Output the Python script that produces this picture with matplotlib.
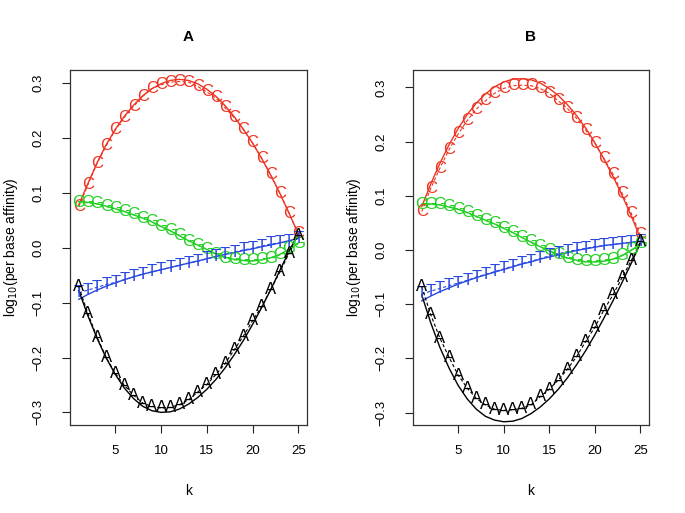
import matplotlib
matplotlib.use("Agg")
import matplotlib.pyplot as plt
import numpy as np

plt.rcParams['font.family'] = ['Liberation Sans', 'DejaVu Sans']

k = list(range(1, 26))

# ---------------- Panel A ----------------
A_C = [0.075, 0.115, 0.154, 0.186, 0.215, 0.238, 0.258, 0.276, 0.290, 0.297, 0.302, 0.303, 0.302,
       0.294, 0.284, 0.273, 0.255, 0.237, 0.215, 0.191, 0.163, 0.133, 0.099, 0.063, 0.026]
A_G = [0.082, 0.082, 0.080, 0.075, 0.071, 0.066, 0.060, 0.054, 0.048, 0.038, 0.031, 0.023, 0.012,
       0.005, -0.003, -0.012, -0.019, -0.022, -0.024, -0.024, -0.022, -0.019, -0.013, -0.002, 0.007]
A_T = [-0.082, -0.077, -0.072, -0.067, -0.063, -0.058, -0.053, -0.048, -0.044, -0.040, -0.036, -0.032, -0.028,
       -0.025, -0.020, -0.016, -0.012, -0.008, -0.004, -0.001, 0.003, 0.007, 0.009, 0.012, 0.017]
A_A = [-0.071, -0.120, -0.163, -0.200, -0.229, -0.251, -0.269, -0.283, -0.289, -0.292, -0.291, -0.286, -0.277,
       -0.263, -0.249, -0.231, -0.211, -0.186, -0.161, -0.133, -0.107, -0.076, -0.044, -0.010, 0.023]

A_C_fit = [0.078, 0.117, 0.155, 0.188, 0.216, 0.240, 0.260, 0.277, 0.290, 0.299, 0.305, 0.307, 0.305,
           0.299, 0.289, 0.276, 0.259, 0.239, 0.216, 0.191, 0.163, 0.132, 0.099, 0.063, 0.025]
A_G_fit = [0.084, 0.083, 0.080, 0.076, 0.071, 0.066, 0.060, 0.054, 0.047, 0.039, 0.031, 0.022, 0.013,
           0.005, -0.003, -0.011, -0.017, -0.021, -0.023, -0.024, -0.022, -0.018, -0.012, -0.003, 0.009]
A_T_fit = [-0.094, -0.085, -0.077, -0.070, -0.064, -0.058, -0.053, -0.048, -0.044, -0.040, -0.036, -0.032, -0.028,
           -0.024, -0.020, -0.016, -0.012, -0.009, -0.005, -0.002, 0.002, 0.005, 0.009, 0.013, 0.017]
A_A_fit = [-0.078, -0.124, -0.165, -0.201, -0.231, -0.256, -0.275, -0.289, -0.297, -0.300, -0.299, -0.294, -0.285,
           -0.273, -0.258, -0.240, -0.219, -0.195, -0.169, -0.140, -0.109, -0.076, -0.041, -0.006, 0.025]

# ---------------- Panel B ----------------
B_C = [0.071, 0.114, 0.151, 0.185, 0.214, 0.239, 0.260, 0.275, 0.289, 0.298, 0.303, 0.304, 0.303,
       0.298, 0.289, 0.275, 0.261, 0.243, 0.221, 0.197, 0.169, 0.140, 0.105, 0.068, 0.028]
B_G = [0.083, 0.084, 0.083, 0.080, 0.075, 0.069, 0.061, 0.054, 0.048, 0.040, 0.032, 0.023, 0.015,
       0.006, -0.001, -0.009, -0.015, -0.020, -0.022, -0.022, -0.020, -0.017, -0.011, 0.000, 0.011]
B_T = [-0.081, -0.076, -0.071, -0.066, -0.061, -0.056, -0.050, -0.045, -0.040, -0.035, -0.030, -0.025, -0.021,
       -0.016, -0.011, -0.007, -0.003, 0.000, 0.003, 0.006, 0.008, 0.010, 0.012, 0.014, 0.016]
B_A = [-0.068, -0.120, -0.163, -0.198, -0.231, -0.255, -0.274, -0.286, -0.294, -0.296, -0.295, -0.292, -0.286,
       -0.271, -0.257, -0.240, -0.220, -0.197, -0.169, -0.143, -0.111, -0.083, -0.051, -0.020, 0.015]

B_C_fit = [0.080, 0.122, 0.160, 0.194, 0.224, 0.250, 0.271, 0.288, 0.301, 0.310, 0.315, 0.316, 0.314,
           0.308, 0.298, 0.285, 0.268, 0.248, 0.225, 0.198, 0.168, 0.136, 0.101, 0.063, 0.023]
B_G_fit = [0.085, 0.085, 0.083, 0.079, 0.075, 0.069, 0.062, 0.055, 0.048, 0.040, 0.032, 0.023, 0.014,
           0.006, -0.002, -0.009, -0.015, -0.019, -0.022, -0.022, -0.021, -0.017, -0.010, -0.001, 0.011]
B_T_fit = [-0.094, -0.085, -0.077, -0.070, -0.063, -0.057, -0.051, -0.046, -0.041, -0.036, -0.031, -0.026, -0.022,
           -0.017, -0.013, -0.009, -0.005, -0.001, 0.002, 0.005, 0.008, 0.010, 0.012, 0.014, 0.016]
B_A_fit = [-0.083, -0.135, -0.180, -0.218, -0.250, -0.275, -0.294, -0.307, -0.314, -0.317, -0.316, -0.311, -0.302,
           -0.290, -0.275, -0.257, -0.236, -0.212, -0.186, -0.157, -0.126, -0.094, -0.060, -0.025, 0.012]

letters = ['C', 'G', 'T', 'A']
colors = {'C': '#EE3322', 'G': '#22D022', 'T': '#2A48E0', 'A': '#000000'}

xticks = [5, 10, 15, 20, 25]
yticks = [-0.3, -0.2, -0.1, 0.0, 0.1, 0.2, 0.3]

W, H = 685, 513
fig = plt.figure(figsize=(W / 100, H / 100), dpi=100)

panels = [
    ('A', (70, 307), (-0.323, 0.324),
     {'C': (A_C, A_C_fit), 'G': (A_G, A_G_fit), 'T': (A_T, A_T_fit), 'A': (A_A, A_A_fit)}),
    ('B', (413, 649), (-0.323, 0.332),
     {'C': (B_C, B_C_fit), 'G': (B_G, B_G_fit), 'T': (B_T, B_T_fit), 'A': (B_A, B_A_fit)}),
]

top_px, bot_px = 70, 425
for title, (l, r), ylim, data in panels:
    ax = fig.add_axes([l / W, 1 - bot_px / H, (r - l) / W, (bot_px - top_px) / H])
    for let in letters:
        pts, fit = data[let]
        c = colors[let]
        ax.plot(k, fit, color=c, lw=1.0, zorder=2)
        ax.plot(k, pts, color=c, lw=0.8, ls=(0, (3, 2)), zorder=2)
        for xi, yi in zip(k, pts):
            ax.text(xi, yi, let, color=c, fontsize=12, ha='center', va='center', zorder=3)
    ax.set_xlim(0.04, 25.96)
    ax.set_ylim(*ylim)
    ax.set_xticks(xticks)
    ax.set_yticks(yticks)
    ax.set_yticklabels([f"{v:.1f}".replace('-', '\u2212') for v in yticks], rotation=90, va='center')
    ax.tick_params(axis='both', direction='out', length=5.5, width=0.8, labelsize=9.5, color='#222222')
    ax.tick_params(axis='x', pad=9)
    ax.tick_params(axis='y', pad=13)
    for s in ax.spines.values():
        s.set_linewidth(0.9)
        s.set_color('#333333')
    ax.set_xlabel('k', fontsize=10, labelpad=19)
    ax.set_ylabel('log$_{10}$(per base affinity)', fontsize=10, labelpad=9)
    ax.set_title(title, fontsize=11, fontweight='bold', pad=21)

fig.savefig('out.png', dpi=100)
